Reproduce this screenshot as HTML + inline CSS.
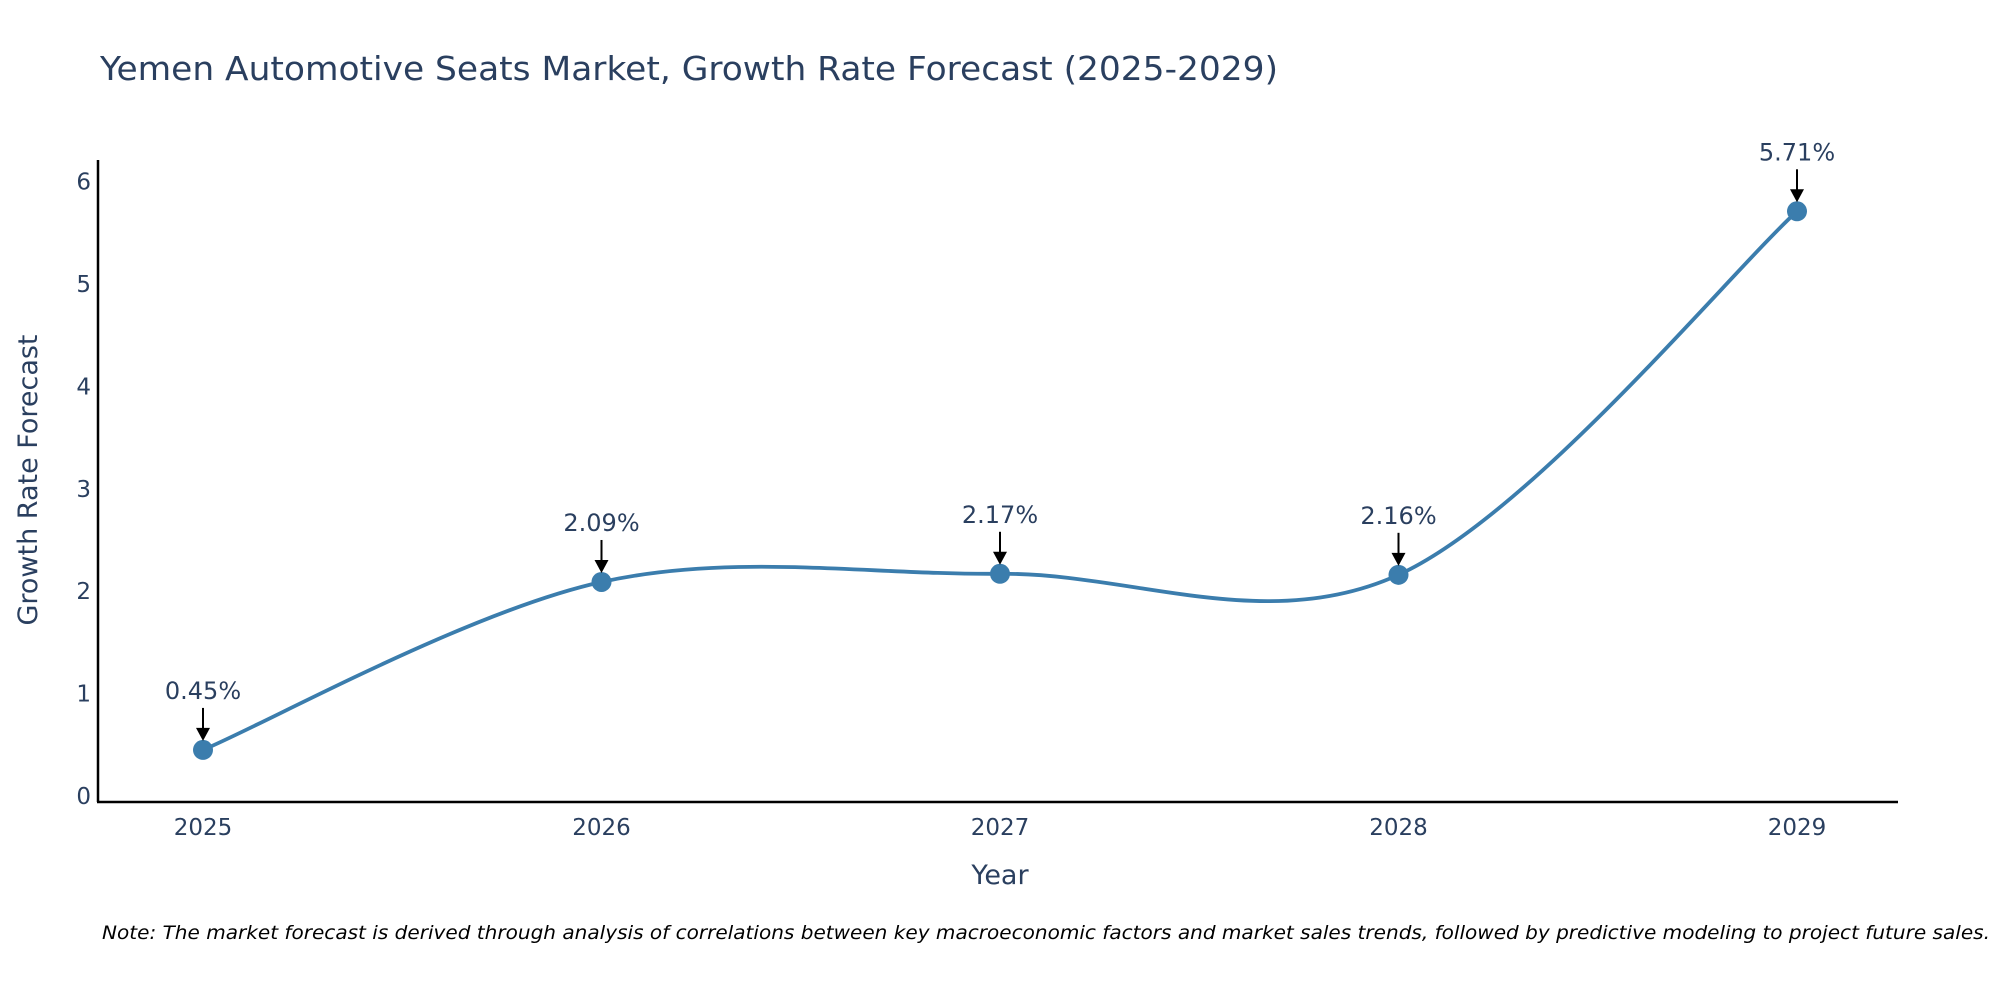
<!DOCTYPE html>
<html><head><meta charset="utf-8"><style>
body{margin:0;background:#fff;}
svg{display:block;font-family:"DejaVu Sans","Liberation Sans",sans-serif;}
</style></head><body>
<svg id="chart" width="2000" height="1000" viewBox="0 0 2000 1000">
<text x="100" y="80" font-size="33" fill="#2a3f5f" textLength="1178" lengthAdjust="spacingAndGlyphs">Yemen Automotive Seats Market, Growth Rate Forecast (2025-2029)</text>
<g id="yticks"></g>
<g id="xticks"></g>
<line x1="98" y1="160" x2="98" y2="802" stroke="#000" stroke-width="2.5"/>
<line x1="97" y1="802" x2="1898" y2="802" stroke="#000" stroke-width="2.5"/>
<text x="37" y="480" font-size="27" fill="#2a3f5f" text-anchor="middle" transform="rotate(-90 37 480)">Growth Rate Forecast</text>
<text x="1000" y="884" font-size="27" fill="#2a3f5f" text-anchor="middle">Year</text>
<g id="series"></g>
<g id="annots"></g>
<text x="102" y="939" font-size="19" font-style="italic" fill="#000" textLength="1888" lengthAdjust="spacingAndGlyphs">Note: The market forecast is derived through analysis of correlations between key macroeconomic factors and market sales trends, followed by predictive modeling to project future sales.</text>
</svg>
<script>
const years = [2025, 2026, 2027, 2028, 2029];
const values = [0.45, 2.09, 2.17, 2.16, 5.71];
const labels = ["0.45%", "2.09%", "2.17%", "2.16%", "5.71%"];
const yTickValues = [0, 1, 2, 3, 4, 5, 6];

const NS = "http://www.w3.org/2000/svg";
const x = v => 203 + (v - 2025) * 398.5;
const y = v => 796 - v * 102.4;
function mk(tag, attrs, parent) {
  const e = document.createElementNS(NS, tag);
  for (const k in attrs) e.setAttribute(k, attrs[k]);
  parent.appendChild(e);
  return e;
}
const yt = document.getElementById('yticks');
yTickValues.forEach(v => {
  const t = mk('text', {x: 91, y: y(v) + 8, 'font-size': 23, fill: '#2a3f5f', 'text-anchor': 'end'}, yt);
  t.textContent = v;
  
  
});
const xt = document.getElementById('xticks');
years.forEach(v => {
  const t = mk('text', {x: x(v), y: 835, 'font-size': 23, fill: '#2a3f5f', 'text-anchor': 'middle'}, xt);
  t.textContent = v;
  
  
});
const pts = years.map((yr, i) => [x(yr), y(values[i])]);
let d = `M${pts[0][0]},${pts[0][1]}`;
for (let i = 0; i < pts.length - 1; i++) {
  const p0 = pts[i - 1] || pts[i], p1 = pts[i], p2 = pts[i + 1], p3 = pts[i + 2] || p2;
  const c1 = [p1[0] + (p2[0] - p0[0]) / 6, p1[1] + (p2[1] - p0[1]) / 6];
  const c2 = [p2[0] - (p3[0] - p1[0]) / 6, p2[1] - (p3[1] - p1[1]) / 6];
  d += ` C${c1[0]},${c1[1]} ${c2[0]},${c2[1]} ${p2[0]},${p2[1]}`;
}
const s = document.getElementById('series');
const line = mk('path', {d: d, fill: 'none', stroke: '#3b7dad', 'stroke-width': 3.8}, s);


pts.forEach(p => {
  const c = mk('circle', {cx: p[0], cy: p[1], r: 10, fill: '#3b7dad'}, s);
  
  
});
const a = document.getElementById('annots');
pts.forEach((p, i) => {
  const ln = mk('line', {x1: p[0], y1: p[1] - 42, x2: p[0], y2: p[1] - 20, stroke: '#000', 'stroke-width': 2}, a);
  
  
  const hd = mk('polygon', {points: `${p[0]-7},${p[1]-22} ${p[0]+7},${p[1]-22} ${p[0]},${p[1]-9}`, fill: '#000'}, a);
  
  
  const t = mk('text', {x: p[0], y: p[1] - 51, 'font-size': 24, fill: '#2a3f5f', 'text-anchor': 'middle'}, a);
  t.textContent = labels[i];
  
  
});
</script>
</body></html>
